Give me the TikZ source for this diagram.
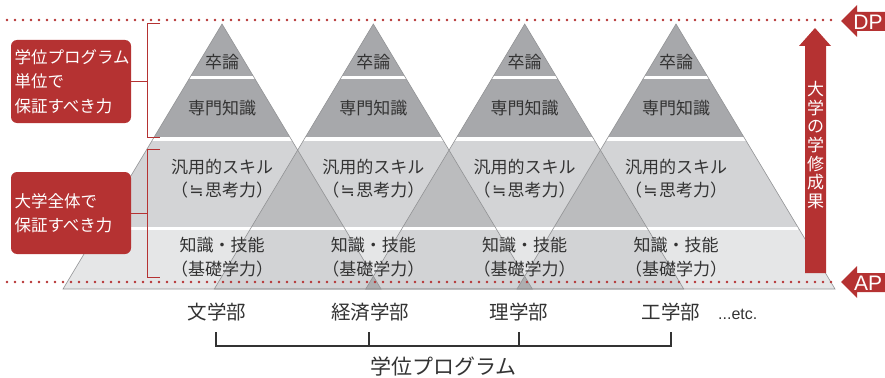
\documentclass[tikz,border=0pt]{standalone}
\usepackage{fontspec}
\usetikzlibrary{calc}
\newfontfamily\jp{Noto Sans CJK JP}
\newfontfamily\lat{Liberation Sans}
\newfontfamily\djv{DejaVu Sans}
\definecolor{brick}{HTML}{B53232}
\definecolor{topg}{HTML}{A7A8AB}
\definecolor{midg}{HTML}{D3D4D6}
\definecolor{midgg}{HTML}{BBBCBE}
\definecolor{lowg}{HTML}{E5E6E7}
\definecolor{lowgg}{HTML}{D2D3D5}
\definecolor{lowggg}{HTML}{ADAEB0}
\definecolor{edgeg}{HTML}{929395}
\definecolor{ink}{HTML}{333333}
\begin{document}
\begin{tikzpicture}[x=1pt,y=-1pt,
  lbl/.style={font=\jp\fontsize{17}{23.5}\selectfont, text=ink, align=center, inner sep=0pt},
  redbox/.style={fill=brick, rounded corners=6pt, minimum width=120pt, text=white,
     font=\jp\fontsize{16.5}{24.5}\selectfont, align=left, inner sep=0pt, text width=113pt},
  brk/.style={draw=brick, line width=1pt},
  dotline/.style={draw=brick, line width=2.8pt, line cap=round, dash pattern=on 0pt off 8pt},
  dept/.style={font=\jp\fontsize{19.5}{19.5}\selectfont, text=ink, inner sep=0pt},
  tickline/.style={draw=ink, line width=1.1pt},
  arrowtxt/.style={font=\lat\fontsize{21}{21}\selectfont, text=white, inner sep=0pt}]
\useasboundingbox (0,0) rectangle (885,377);

% pyramids base fills
\foreach \a in {222,373.3,524.7,676}{
  \fill[topg] (\a,24) -- (\a+70.2,141) -- (\a-70.2,141) -- cycle;
  \fill[midg] (\a-70.2,141) -- (\a+70.2,141) -- (\a+122.4,228) -- (\a-122.4,228) -- cycle;
  \fill[lowg] (\a-122.4,228) -- (\a+122.4,228) -- (\a+159,289) -- (\a-159,289) -- cycle;
}
% double overlaps
\foreach \a/\b in {222/373.3,373.3/524.7,524.7/676}{
  \begin{scope}
    \clip (\a,24) -- (\a+159,289) -- (\a-159,289) -- cycle;
    \fill[midgg] (\b-70.2,141) -- (\b+70.2,141) -- (\b+122.4,228) -- (\b-122.4,228) -- cycle;
    \fill[lowgg] (\b-122.4,228) -- (\b+122.4,228) -- (\b+159,289) -- (\b-159,289) -- cycle;
  \end{scope}
}
% triple overlaps
\foreach \a/\b in {222/524.7,373.3/676}{
  \begin{scope}
    \clip (\a,24) -- (\a+159,289) -- (\a-159,289) -- cycle;
    \fill[lowggg] (\b-122.4,228) -- (\b+122.4,228) -- (\b+159,289) -- (\b-159,289) -- cycle;
  \end{scope}
}
% white gaps
\fill[white] (55,76) rectangle (798,79);
\fill[white] (55,137) rectangle (798,141);
\fill[white] (55,227) rectangle (798,230);
% outlines
\foreach \a in {222,373.3,524.7,676}{
  \draw[edgeg, line width=0.6pt] (\a,24) -- (\a+159,289) -- (\a-159,289) -- cycle;
}

% dotted lines
\coordinate (dpL) at (7,20);
\coordinate (dpR) at (833,20);
\coordinate (apL) at (7,282);
\coordinate (apR) at (833,282);
\draw[dotline] (dpL) -- (dpR);
\draw[dotline] (apL) -- (apR);

% pyramid texts
\foreach \a/\n in {222/a,373.3/b,524.7/c,676/d}{
  \node[lbl] (sr\n) at (\a,62) {卒論};
  \node[lbl] (sm\n) at (\a,108) {専門知識};
  \node[lbl] (hy\n) at (\a,178.5) {汎用的スキル\\（\makebox[17pt]{\djv\fontsize{17}{17}\selectfont ≒}思考力）};
  \node[lbl] (ch\n) at (\a,257) {知識・技能\\（基礎学力）};
}

% left boxes and brackets
\node[redbox, minimum height=83pt] (box1) at (71,81.5) {学位プログラム\\単位で\\保証すべき力};
\node[redbox, minimum height=82pt] (box2) at (71,213) {大学全体で\\保証すべき力};
\coordinate (b1t) at (160,24);
\coordinate (b1b) at (160,137);
\coordinate (b1m) at (147,81.5);
\coordinate (b2t) at (160,149);
\coordinate (b2b) at (160,277);
\coordinate (b2m) at (147,213);
\draw[brk] (b1t) -- (b1t -| b1m) -- (b1b -| b1m) -- (b1b);
\draw[brk] (box1.east) -- (b1m);
\draw[brk] (b2t) -- (b2t -| b2m) -- (b2b -| b2m) -- (b2b);
\draw[brk] (box2.east) -- (b2m);

% DP / AP arrows
\fill[brick] (841,21) -- (857,5) -- (857,12) -- (885,12) -- (885,31) -- (857,31) -- (857,37) -- cycle;
\node[arrowtxt] (dp) at (868,22) {DP};
\fill[brick] (841,282) -- (857,266) -- (857,273) -- (885,273) -- (885,292) -- (857,292) -- (857,298) -- cycle;
\node[arrowtxt] (ap) at (868,283) {AP};

% vertical arrow
\fill[brick] (815,28) -- (831,46) -- (826,46) -- (826,273) -- (805,273) -- (805,46) -- (799,46) -- cycle;
\node[font=\jp\fontsize{17}{18.6}\selectfont, text=white, align=center, inner sep=0pt] (gk) at (815.5,145)
  {大\\学\\の\\学\\修\\成\\果};

% departments
\node[dept] (bun) at (217,312) {文学部};
\node[dept] (kei) at (370,312) {経済学部};
\node[dept] (ri) at (519,312) {理学部};
\node[dept] (ko) at (671,312) {工学部};
\node[font=\lat\fontsize{16}{16}\selectfont, text=ink, inner sep=0pt, anchor=west] (etc) at (718,314) {...etc.};
\coordinate (t1) at (216,332);
\coordinate (t2) at (369,332);
\coordinate (t3) at (519,332);
\coordinate (t4) at (671,332);
\draw[tickline] (t1) -- ++(0,14) -- ($(t4)+(0,14)$) -- (t4);
\draw[tickline] (t2) -- ++(0,14);
\draw[tickline] (t3) -- ++(0,14);
\node[font=\jp\fontsize{21}{21}\selectfont, text=ink, inner sep=0pt] (gp) at (443.5,366) {学位プログラム};
\end{tikzpicture}
\end{document}
